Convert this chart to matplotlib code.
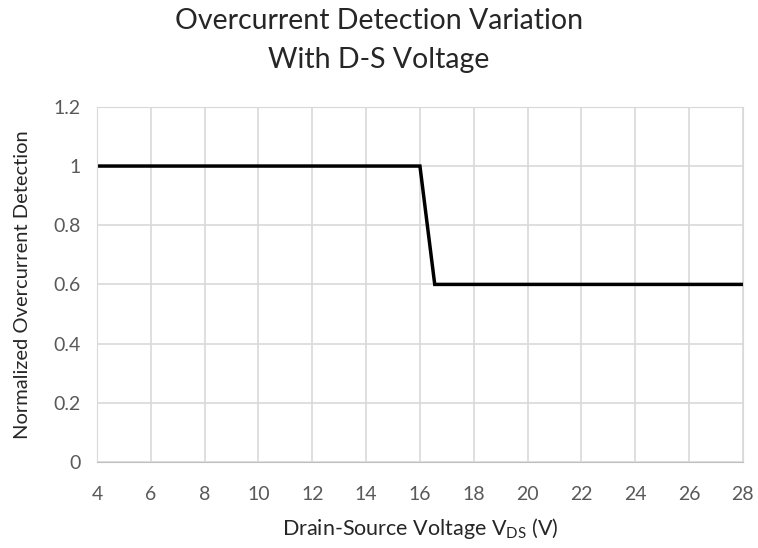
import matplotlib.pyplot as plt
import numpy as np

plt.rcParams['font.family'] = ['Lato', 'DejaVu Sans']

# Data
vds = [4, 16, 16.55, 28]
normalized_ocd = [1.0, 1.0, 0.6, 0.6]

x_ticks = np.arange(4, 29, 2)
y_ticks = [0, 0.2, 0.4, 0.6, 0.8, 1, 1.2]
y_labels = ['0', '0.2', '0.4', '0.6', '0.8', '1', '1.2']

fig = plt.figure(figsize=(7.58, 5.48), dpi=100)
ax = fig.add_axes([0.128, 0.157, 0.852, 0.648])

ax.plot(vds, normalized_ocd, color='black', linewidth=2.5, solid_joinstyle='miter')

ax.set_xlim(4, 28)
ax.set_ylim(0, 1.2)
ax.set_xticks(x_ticks)
ax.set_yticks(y_ticks)
ax.set_yticklabels(y_labels)
ax.grid(True, color='#d9d9d9', linewidth=1.2)
ax.set_axisbelow(True)

for side in ['top', 'right', 'left']:
    ax.spines[side].set_color('#d9d9d9')
ax.spines['bottom'].set_color('#bfbfbf')
ax.tick_params(axis='x', length=0, labelsize=14, colors='#595959', pad=17)
ax.tick_params(axis='y', length=0, labelsize=14, colors='#595959', pad=12)

ax.set_xlabel('Drain-Source Voltage V$_{\\mathregular{DS}}$ (V)', fontsize=15.5, color='#262626', labelpad=10)
ax.set_ylabel('Normalized Overcurrent Detection', fontsize=14.5, color='#262626', labelpad=16)
fig.suptitle('Overcurrent Detection Variation\nWith D-S Voltage', fontsize=20.5, color='#262626', y=0.985, linespacing=1.6)

fig.savefig('out.png', dpi=100)
